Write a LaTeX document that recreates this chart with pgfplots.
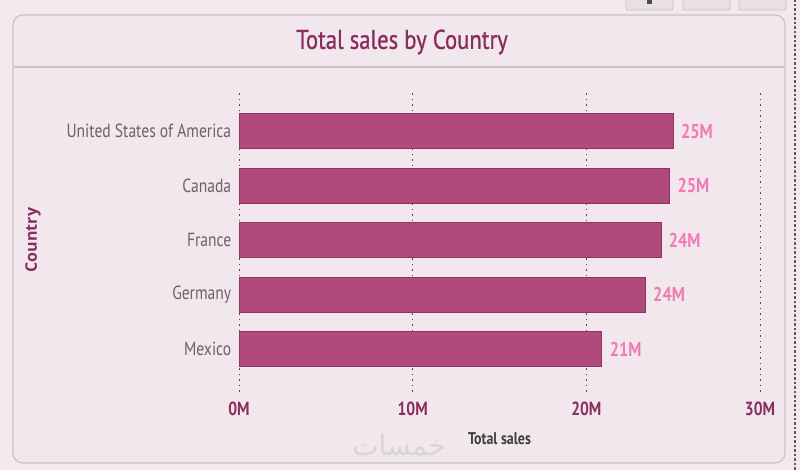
\documentclass[border=0pt]{standalone}
\usepackage{fontspec}
\usepackage{pgfplots}
\pgfplotsset{compat=1.18}
\setmainfont{PT Sans}
\newfontfamily\condf{PT Sans}[FakeStretch=0.82]
\newfontfamily\titf{PT Sans}[FakeStretch=0.84, FakeBold=0.8]
\newfontfamily\widef{Open Sans}
\newfontfamily\arabicfont[Script=Arabic]{DejaVu Sans}
\TeXXeTstate=1
\definecolor{bg}{HTML}{F2E8EE}
\definecolor{panel}{HTML}{F1E7ED}
\definecolor{barfill}{HTML}{B04A7D}
\definecolor{baredge}{HTML}{8C3563}
\definecolor{vallab}{HTML}{F27AB4}
\definecolor{dmag}{HTML}{8A2D5E}
\definecolor{ylab}{HTML}{686468}
\definecolor{pborder}{HTML}{C9C2C6}
\begin{document}
\begin{tikzpicture}[x=1pt,y=1pt]
\useasboundingbox (0,0) rectangle (800,470);
\clip (0,0) rectangle (800,470);
\fill[bg] (0,0) rectangle (800,470);
% top-right buttons
\foreach \a/\b in {626/673,683/730,739/786}{
  \draw[fill=bg!92!gray, draw=pborder, line width=0.8pt, rounded corners=2pt] (\a,460) rectangle (\b,475);
}
\fill[black!70] (647,466) rectangle (652,470);
% panel
\draw[fill=panel, draw=pborder, line width=1.2pt, rounded corners=10pt] (13,7) rectangle (785,455);
\draw[pborder, line width=2pt] (14,403) -- (784,403);
% right dashed border
\draw[black!65, line width=1.6pt, dash pattern=on 2.5pt off 2pt] (795,0) -- (795,470);
% title
\node[text=dmag, font=\titf\fontsize{27pt}{29pt}\selectfont] at (402,428) {Total sales by Country};
% y label
\node[rotate=90, text=dmag, font=\widef\bfseries\fontsize{16pt}{17pt}\selectfont] at (33,230) {Country};
% watermark
\node[text=black!16, font=\arabicfont\fontsize{28pt}{30pt}\selectfont] at (399,25) {\beginR خمسات\endR};
\begin{axis}[
  at={(239pt,78pt)}, anchor=south west,
  scale only axis, width=521pt, height=300pt,
  xmin=0, xmax=30, ymin=-0.79, ymax=4.72,
  xbar, bar width=35pt,
  xtick={0,10,20,30}, xticklabels={0M,10M,20M,30M},
  ytick={0,1,2,3,4},
  yticklabels={Mexico,Germany,France,Canada,United States of America},
  xmajorgrids,
  major grid style={black!70, line width=0.8pt, dash pattern=on 1.5pt off 4pt},
  axis line style={draw=none}, tick style={draw=none},
  xticklabel style={text=dmag, font=\condf\bfseries\fontsize{19pt}{20pt}\selectfont, yshift=-6pt},
  yticklabel style={text=ylab, font=\condf\fontsize{19pt}{20pt}\selectfont},
  xlabel={Total sales},
  xlabel style={text=black!75, font=\condf\bfseries\fontsize{17pt}{18pt}\selectfont, yshift=-10pt},
  point meta=explicit symbolic,
  nodes near coords,
  nodes near coords align={anchor=west},
  every node near coord/.append style={anchor=west, text=vallab, font=\condf\bfseries\fontsize{20pt}{21pt}\selectfont, xshift=4pt},
]
\addplot[fill=barfill, draw=baredge, line width=1pt] coordinates {
  (20.9,0) [21M]
  (23.4,1) [24M]
  (24.3,2) [24M]
  (24.8,3) [25M]
  (25.0,4) [25M]
};
\end{axis}
\end{tikzpicture}
\end{document}
